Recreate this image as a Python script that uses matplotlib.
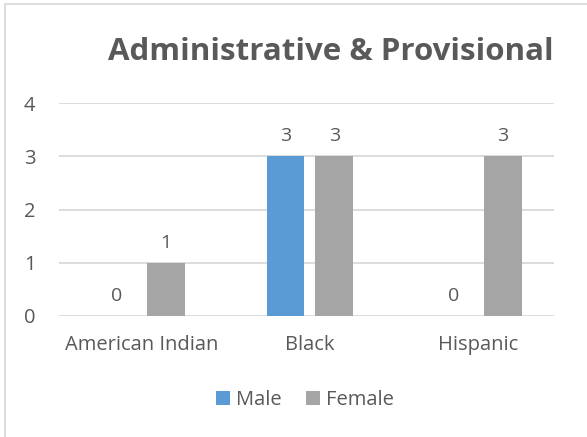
import matplotlib
matplotlib.use("Agg")
import matplotlib.pyplot as plt
import numpy as np
from matplotlib.patches import Rectangle

categories = ["American Indian", "Black", "Hispanic"]
male = [0, 3, 0]
female = [1, 3, 3]
series_names = ["Male", "Female"]
title = "Administrative & Provisional"

plt.rcParams["font.family"] = ["Open Sans", "DejaVu Sans"]
TXT = "#595959"

fig = plt.figure(figsize=(5.87, 4.37), dpi=100)
ax = fig.add_axes([0.1005, 0.277, 0.8435, 0.487])

x = np.arange(len(categories))
w = 0.225
off = 0.145
b1 = ax.bar(x - off, male, w, color="#5B9BD5", label=series_names[0], zorder=3)
b2 = ax.bar(x + off, female, w, color="#A5A5A5", label=series_names[1], zorder=3)

for bars in (b1, b2):
    for r in bars:
        ax.annotate(f"{int(r.get_height())}", (r.get_x() + r.get_width() / 2, r.get_height()),
                    xytext=(0, 8), textcoords="offset points", ha="center", va="bottom",
                    fontsize=14, color=TXT)

ax.set_ylim(0, 4)
ax.set_xlim(-0.49, 2.45)
ax.set_yticks(range(5))
ax.set_xticks(x)
ax.set_xticklabels(categories)
ax.tick_params(length=0, labelsize=14.5, labelcolor=TXT)
ax.tick_params(axis="y", pad=17)
ax.tick_params(axis="x", pad=14)
ax.grid(axis="y", color="#D9D9D9", linewidth=1.3, zorder=0)
for s in ax.spines.values():
    s.set_visible(False)

fig.text(0.564, 0.882, title, ha="center", va="center", fontsize=22.5, fontweight="bold", color=TXT)

fig.legend(loc="center", bbox_to_anchor=(0.52, 0.085), ncol=2, frameon=False, fontsize=14.5,
           handlelength=0.7, handleheight=0.7, handletextpad=0.3, columnspacing=1.2,
           labelcolor=TXT)

fig.patches.append(Rectangle((5 / 587, -0.1), 1.2, 1 - 4 / 437 + 0.1, transform=fig.transFigure,
                             fill=False, edgecolor="#D9D9D9", linewidth=1.3))

fig.savefig("out.png", dpi=100)
